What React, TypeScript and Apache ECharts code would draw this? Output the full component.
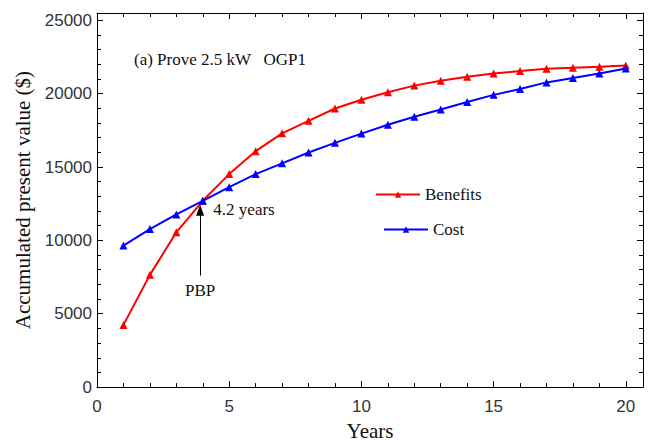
import React, { useEffect, useRef } from "react";
import * as echarts from "echarts";

const years = [1, 2, 3, 4, 5, 6, 7, 8, 9, 10, 11, 12, 13, 14, 15, 16, 17, 18, 19, 20];
const benefits = [4240, 7650, 10550, 12700, 14520, 16080, 17300, 18150, 18990, 19590, 20100, 20550, 20880, 21150, 21370, 21550, 21700, 21770, 21830, 21920];
const cost = [9650, 10770, 11770, 12700, 13630, 14520, 15250, 15990, 16650, 17280, 17880, 18430, 18920, 19430, 19920, 20320, 20770, 21070, 21370, 21720];
const pbpX = 3.9;
const pbpArrow = [7600, 12050];
const pbpLabel = "4.2 years";
const panelTitle = "(a) Prove 2.5 kW   OGP1";

const SERIF = "'Liberation Serif', 'Times New Roman', serif";
const SANS = "'Liberation Sans', Arial, sans-serif";

export default function App() {
  const ref = useRef<HTMLDivElement>(null);
  useEffect(() => {
    if (!ref.current) return;
    const chart = echarts.init(ref.current, null, { renderer: "svg" });
    const axisCommon = {
      axisLine: { show: true, onZero: false, lineStyle: { color: "#000", width: 1 } },
      axisTick: { show: true, inside: true, length: 6, lineStyle: { color: "#000" } },
      minorTick: { show: true, splitNumber: 5, length: 4, lineStyle: { color: "#000" } },
      splitLine: { show: false },
    };
    chart.setOption({
      animation: false,
      backgroundColor: "#fff",
      grid: { left: 97, right: 5, top: 13, bottom: 50, containLabel: false },
      xAxis: [
        {
          type: "value",
          min: 0,
          max: 20.65,
          interval: 5,
          ...axisCommon,
          axisLabel: { fontFamily: SANS, fontSize: 17, color: "#333", margin: 11, showMaxLabel: false },
          name: "Years",
          nameLocation: "middle",
          nameGap: 29,
          nameTextStyle: { fontFamily: SERIF, fontSize: 21, color: "#111" },
        },
        {
          type: "value",
          position: "top",
          min: 0,
          max: 20.65,
          interval: 5,
          ...axisCommon,
          axisLabel: { show: false },
        },
      ],
      yAxis: [
        {
          type: "value",
          min: 0,
          max: 25500,
          interval: 5000,
          ...axisCommon,
          axisLabel: {
            fontFamily: SANS,
            fontSize: 17,
            color: "#333",
            margin: 5,
            showMaxLabel: false,
            formatter: (v: number) => String(v),
          },
          name: "Accumulated present value ($)",
          nameLocation: "middle",
          nameGap: 64,
          nameTextStyle: { fontFamily: SERIF, fontSize: 21, color: "#111" },
        },
        {
          type: "value",
          position: "right",
          min: 0,
          max: 25500,
          interval: 5000,
          ...axisCommon,
          axisLabel: { show: false },
        },
      ],
      legend: [
        {
          data: ["Benefits"],
          left: 375,
          top: 186,
          padding: 0,
          itemWidth: 44,
          itemHeight: 8,
          textStyle: { fontFamily: SERIF, fontSize: 17, color: "#111" },
        },
        {
          data: ["Cost"],
          left: 383,
          top: 221,
          padding: 0,
          itemWidth: 44,
          itemHeight: 8,
          textStyle: { fontFamily: SERIF, fontSize: 17, color: "#111" },
        },
      ],
      graphic: [
        {
          type: "text",
          left: 134,
          top: 51,
          style: { text: panelTitle, fontFamily: SERIF, fontSize: 17, fill: "#111" },
        },
      ],
      series: [
        {
          name: "Benefits",
          type: "line",
          data: years.map((y, i) => [y, benefits[i]]),
          symbol: "triangle",
          symbolSize: 8,
          lineStyle: { color: "#ff0000", width: 2 },
          itemStyle: { color: "#ff0000" },
          z: 2,
          markLine: {
            silent: true,
            symbol: ["none", "triangle"],
            symbolSize: [8, 11],
            lineStyle: { color: "#000", width: 1, type: "solid" },
            label: {
              show: true,
              position: "start",
              distance: 6,
              formatter: "PBP",
              fontFamily: SERIF,
              fontSize: 17,
              color: "#111",
            },
            data: [[{ coord: [pbpX, pbpArrow[0]] }, { coord: [pbpX, pbpArrow[1]] }]],
          },
          markPoint: {
            silent: true,
            symbol: "circle",
            symbolSize: 0,
            label: {
              show: true,
              position: "right",
              distance: 0,
              formatter: pbpLabel,
              fontFamily: SERIF,
              fontSize: 17,
              color: "#111",
            },
            data: [{ coord: [4.4, 12100] }],
          },
        },
        {
          name: "Cost",
          type: "line",
          data: years.map((y, i) => [y, cost[i]]),
          symbol: "triangle",
          symbolSize: 8,
          lineStyle: { color: "#0000ff", width: 2 },
          itemStyle: { color: "#0000ff" },
          z: 3,
        },
      ],
    });
    return () => chart.dispose();
  }, []);
  return <div ref={ref} style={{ width: 648, height: 446, position: "absolute", left: 0, top: 0 }} />;
}
